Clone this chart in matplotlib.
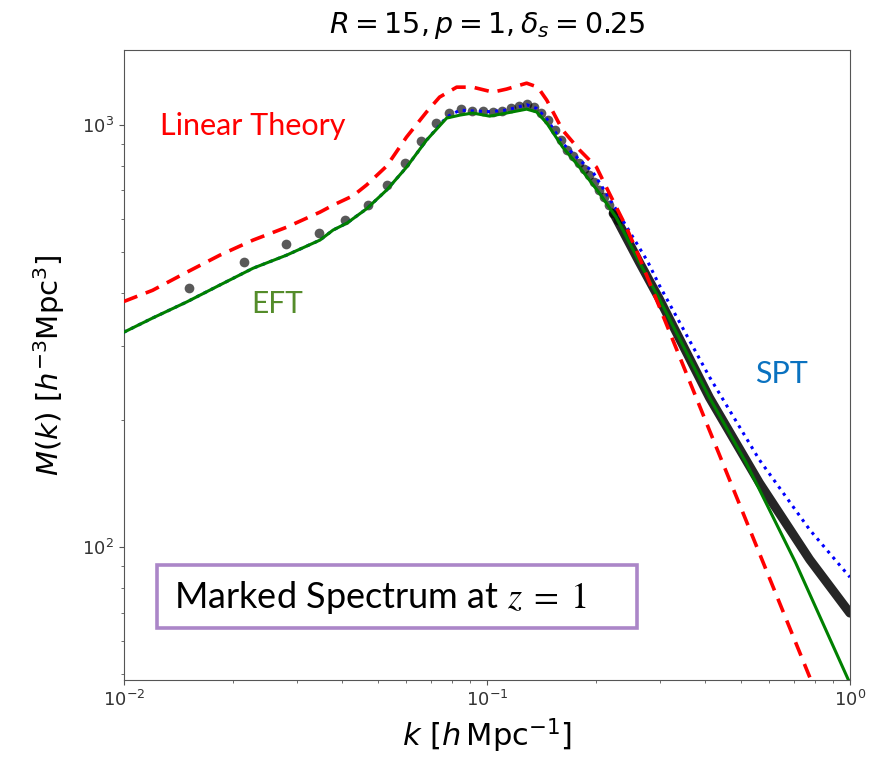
import numpy as np
import matplotlib.pyplot as plt
from matplotlib.patches import Rectangle

# --- values ---
# simulation bins (black points)
k_sim = [0.0151, 0.0215, 0.0279, 0.0344, 0.0406, 0.0470, 0.0532, 0.0596, 0.0660,
         0.0723, 0.0786, 0.0849, 0.0911, 0.0974, 0.1037, 0.1100, 0.1162, 0.1225,
         0.1288, 0.1351, 0.1414, 0.1477, 0.1539, 0.1602, 0.1665, 0.1728, 0.1791,
         0.1854, 0.1916, 0.1979, 0.2042, 0.2105, 0.2168, 0.2231, 0.2293]
M_sim = [411, 474, 522, 555, 596, 646, 721, 813, 917,
         1011, 1068, 1091, 1080, 1080, 1074, 1080, 1097, 1109,
         1121, 1103, 1068, 1028, 973, 921, 873, 844, 813,
         787, 761, 732, 702, 675, 646, 619, 596]
# dense high-k bins merge into a thick band
k_sim_hi = [0.2231, 0.2628, 0.2983, 0.4105, 0.5633, 0.7747, 1.0]
M_sim_hi = [619, 474, 388, 226, 142, 93.5, 69.8]

# linear theory (red dashed)
k_lin = [0.0100, 0.0120, 0.0149, 0.0184, 0.0227, 0.0281, 0.0347, 0.0377, 0.0428,
         0.0467, 0.0530, 0.0601, 0.0682, 0.0741, 0.0826, 0.0914, 0.1039, 0.1133,
         0.1287, 0.1381, 0.1462, 0.1617, 0.1800, 0.2004, 0.2173, 0.2422, 0.2628,
         0.4105, 0.7650, 1.0]
M_lin = [382, 406, 448, 492, 534, 573, 622, 646, 680,
         722, 800, 937, 1074, 1165, 1230, 1230, 1197, 1217,
         1257, 1230, 1146, 973, 873, 795, 690, 573, 487,
         189, 50.6, 28.7]

# EFT (green)
k_eft = [0.0100, 0.0120, 0.0149, 0.0184, 0.0227, 0.0281, 0.0347, 0.0377, 0.0412,
         0.0467, 0.0530, 0.0601, 0.0682, 0.0775, 0.0843, 0.0914, 0.1018, 0.1133,
         0.1287, 0.1372, 0.1462, 0.1617, 0.1800, 0.2041, 0.2272, 0.2422, 0.2628,
         0.2983, 0.4105, 0.5188, 0.7082, 1.0]
M_eft = [323, 349, 381, 418, 458, 492, 534, 564, 586,
         634, 702, 795, 921, 1039, 1056, 1068, 1050, 1068,
         1091, 1074, 1011, 887, 795, 690, 604, 544, 474,
         388, 226, 158, 92.0, 47.6]

# SPT (blue dotted)
k_spt = [0.0100, 0.0120, 0.0149, 0.0184, 0.0227, 0.0281, 0.0347, 0.0377, 0.0412,
         0.0467, 0.0530, 0.0601, 0.0682, 0.0775, 0.0843, 0.0914, 0.1018, 0.1133,
         0.1287, 0.1372, 0.1462, 0.1617, 0.1800, 0.1959, 0.2173, 0.2422, 0.2777,
         0.2983, 0.4105, 0.5633, 0.7747, 1.0]
M_spt = [323, 349, 381, 418, 458, 492, 534, 564, 586,
         634, 702, 795, 921, 1045, 1085, 1080, 1076, 1085,
         1118, 1095, 1035, 905, 827, 774, 671, 576, 474,
         418, 253, 161, 110, 84.9]

fig = plt.figure(figsize=(8.78, 7.6), dpi=100)
ax = fig.add_axes([0.141, 0.105, 0.827, 0.829])

ax.plot(k_sim_hi, M_sim_hi, color='k', lw=6.5, alpha=0.85,
        solid_capstyle='round', solid_joinstyle='round', zorder=2)
ax.plot(k_sim, M_sim, 'o', color='k', ms=7, alpha=0.65, mec='none', zorder=2)
ax.plot(k_spt, M_spt, ':', color='blue', lw=2.2, zorder=3)
ax.plot(k_eft, M_eft, color='green', lw=2.2, zorder=4)
ax.plot(k_lin, M_lin, '--', color='red', lw=2.6, dashes=(4, 2.5), zorder=5)

ax.set_xscale('log')
ax.set_yscale('log')
ax.set_xlim(1e-2, 1e0)
ax.set_ylim(48.4, 1505)

for s in ax.spines.values():
    s.set_color('#555555')
ax.tick_params(which='both', colors='#555555', labelcolor='#333333', labelsize=13)

ax.set_title(r'$R = 15, p = 1, \delta_s = 0.25$', fontsize=20.5, pad=12.5)
ax.set_xlabel(r'$k\ [h\,\mathrm{Mpc}^{-1}]$', fontsize=22, labelpad=5)
ax.set_ylabel(r'$M(k)\ [h^{-3}\mathrm{Mpc}^3]$', fontsize=21, labelpad=11)

ann = ['Lato', 'DejaVu Sans']
ax.text(0.0496, 0.879, 'Linear Theory', transform=ax.transAxes, color='#ff0000',
        fontsize=22, family=ann, va='center', ha='left')
ax.text(0.176, 0.597, 'EFT', transform=ax.transAxes, color='#548c2a',
        fontsize=21.5, family=ann, va='center', ha='left')
ax.text(0.869, 0.486, 'SPT', transform=ax.transAxes, color='#0a72c0',
        fontsize=22, family=ann, va='center', ha='left')

ax.add_patch(Rectangle((0.0455, 0.0825), 0.661, 0.100, transform=ax.transAxes,
                       fc='white', ec='#ab86c8', lw=2.6, zorder=6))
ax.text(0.0685, 0.131, r'Marked Spectrum at $z\;=\;1$', transform=ax.transAxes,
        fontsize=26, family=ann, math_fontfamily='stix', va='center', ha='left', zorder=7)

fig.savefig('out.png', dpi=100)
